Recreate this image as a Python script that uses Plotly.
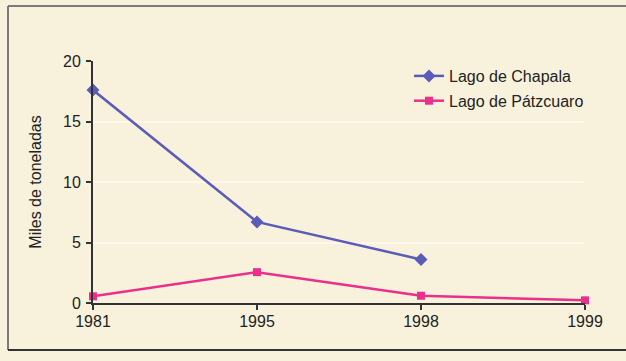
import plotly.graph_objects as go

years = ["1981", "1995", "1998", "1999"]
chapala = [17.6, 6.7, 3.6, None]
patzcuaro = [0.55, 2.55, 0.6, 0.22]
y_ticks = [0, 5, 10, 15, 20]

BG = "#f8f2dc"
BLUE = "#5a5cb8"
PINK = "#ea2f8c"
FONT = "Liberation Sans, Arial, sans-serif"

fig = go.Figure()
fig.add_trace(go.Scatter(
    x=years, y=chapala, name="Lago de Chapala", mode="lines+markers",
    line=dict(color=BLUE, width=2.5),
    marker=dict(symbol="diamond", size=10, color=BLUE),
    cliponaxis=False, connectgaps=False, legendgroup="a",
))
fig.add_trace(go.Scatter(
    x=years, y=patzcuaro, name="Lago de Pátzcuaro", mode="lines+markers",
    line=dict(color=PINK, width=2.5),
    marker=dict(symbol="square", size=8, color=PINK),
    cliponaxis=False, legendgroup="b",
))

L, R, T, B = 93, 41, 61, 58
W, H = 626, 361
pw = W - L - R
ph = H - T - B

def px_x(p):
    return (p - L) / pw

def px_y(p):
    return (H - B - p) / ph

fig.add_shape(type="line", xref="paper", yref="paper",
              x0=px_x(8), x1=px_x(640), y0=px_y(6), y1=px_y(6),
              line=dict(color="#7a7a7a", width=2))
fig.add_shape(type="line", xref="paper", yref="paper",
              x0=px_x(8), x1=px_x(8), y0=px_y(6), y1=px_y(350),
              line=dict(color="#7a7a7a", width=2))
fig.add_shape(type="line", xref="paper", yref="paper",
              x0=px_x(8), x1=px_x(640), y0=px_y(350), y1=px_y(350),
              line=dict(color="#333333", width=2))

fig.update_layout(
    width=W, height=H,
    margin=dict(l=L, r=R, t=T, b=B),
    paper_bgcolor=BG, plot_bgcolor=BG,
    font=dict(family=FONT, size=16, color="#222222"),
    showlegend=True,
    legend=dict(x=px_x(409), y=px_y(59), xanchor="left", yanchor="top",
                bgcolor="rgba(0,0,0,0)", font=dict(size=16, color="#222222"),
                tracegroupgap=1, itemwidth=30),
    xaxis=dict(
        type="category", range=[0, 3], showgrid=False,
        showline=True, linecolor="#333333", linewidth=2,
        ticks="outside", ticklen=5, tickcolor="#333333", tickwidth=1.5,
        tickfont=dict(size=16), zeroline=False, ticklabelstandoff=-2,
    ),
    yaxis=dict(
        range=[0, 20], tickvals=y_ticks, showgrid=True,
        gridcolor="#fcf8ec", gridwidth=2,
        showline=True, linecolor="#333333", linewidth=2,
        ticks="outside", ticklen=5, tickcolor="#333333", tickwidth=1.5,
        tickfont=dict(size=16), zeroline=False, ticklabelstandoff=2,
        title=dict(text="Miles de toneladas", font=dict(size=16), standoff=17),
    ),
)

fig.write_html("out.html")
